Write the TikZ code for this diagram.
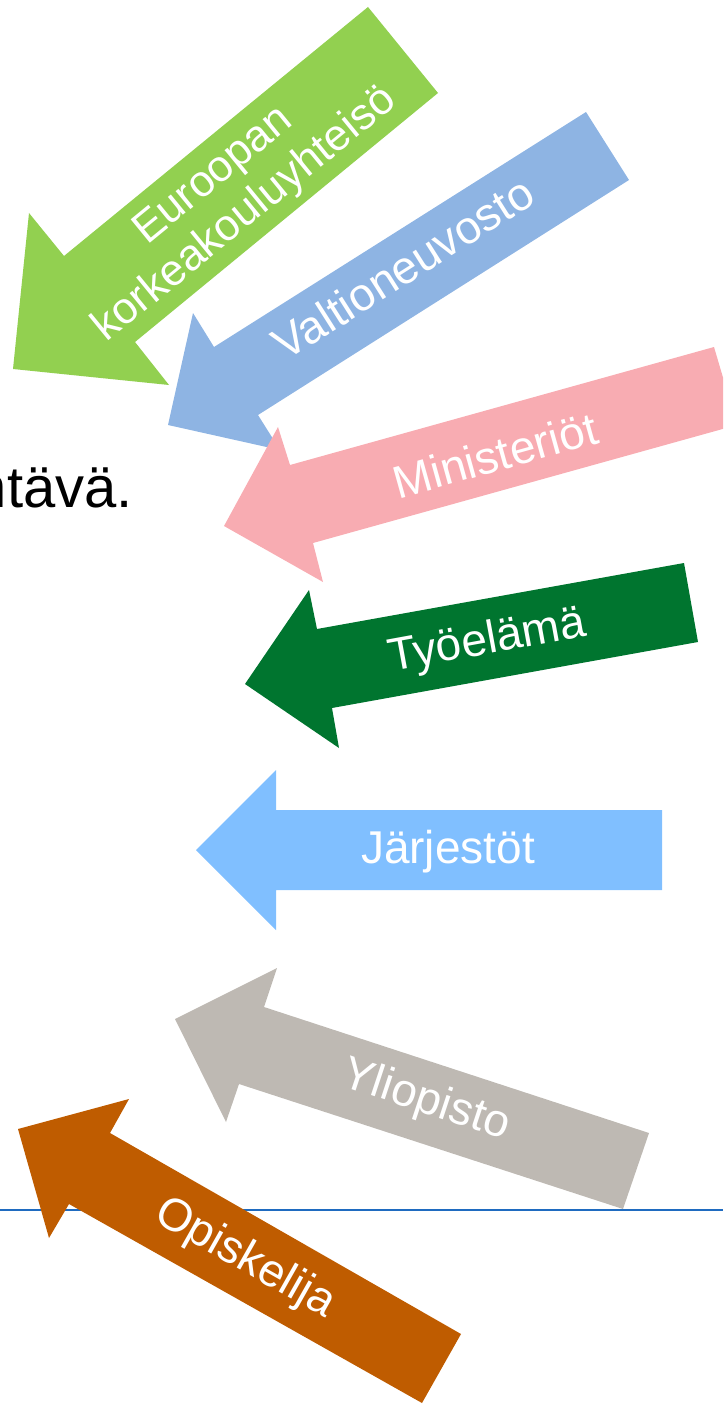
\documentclass[tikz,border=0pt]{standalone}
\usepackage{fontspec}
\setmainfont{Liberation Sans}
\definecolor{eurogreen}{HTML}{92D050}
\definecolor{govblue}{HTML}{8EB4E3}
\definecolor{minpink}{HTML}{F8ACB2}
\definecolor{workgreen}{HTML}{00752F}
\definecolor{orgblue}{HTML}{80BFFF}
\definecolor{unigrey}{HTML}{BEB9B3}
\definecolor{studorange}{HTML}{BF5C00}
\definecolor{ruleblue}{HTML}{1F6BC0}
\tikzset{
	arrow label/.style={
		text=white,
		inner sep=0mm,
		align=center,
		font=\fontsize{46}{52}\selectfont,
	},
}

\begin{document}
\begin{tikzpicture}[x=1pt,y=-1pt]
\clip (0,0) rectangle (723,1404);

\draw[ruleblue, line width=2pt] (0,1210) -- (723,1210);
\node(txt)[anchor=base east, inner sep=0mm, font=\fontsize{58}{66}\selectfont] at (133,507) {ntävä.};

% arrows, tip first
\fill[eurogreen] (13,369) -- (29,213) -- (64,256) -- (368,7) -- (438,93) -- (135,342) -- (169,385) -- cycle;
\fill[govblue] (168,425) -- (193,313) -- (214,347) -- (586,112) -- (629,180) -- (258,415) -- (280,450) -- cycle;
\fill[minpink] (224,526) -- (278,427) -- (290,465) -- (714,347) -- (737,425) -- (313,543) -- (323,582) -- cycle;
\fill[workgreen] (245,684) -- (309,590) -- (317,629) -- (684,563) -- (698,642) -- (332,708) -- (339,748) -- cycle;
\fill[orgblue] (196,850) -- (276,770) -- (276,810) -- (662,810) -- (662,890) -- (276,890) -- (276,930) -- cycle;
\fill[unigrey] (175,1019) -- (277,968) -- (264,1007) -- (649,1133) -- (623,1209) -- (239,1084) -- (226,1122) -- cycle;
\fill[studorange] (18,1129) -- (129,1099) -- (110,1133) -- (461,1334) -- (422,1403) -- (69,1204) -- (49,1238) -- cycle;

% labels
\node(euro)[arrow label, rotate=39.3, font=\fontsize{44}{50}\selectfont] at (230,196) {Euroopan\\korkeakouluyhteisö};
\node(gov)[arrow label, rotate=32.4] at (403,268) {Valtioneuvosto};
\node(min)[arrow label, rotate=15.6] at (495,455) {Ministeriöt};
\node(work)[arrow label, rotate=10.4] at (487,642) {Työelämä};
\node(org)[arrow label] at (448,852) {Järjestöt};
\node(uni)[arrow label, rotate=-18.3] at (426,1101) {Yliopisto};
\node(stud)[arrow label, rotate=-29.5] at (245,1259) {Opiskelija};
\end{tikzpicture}
\end{document}
